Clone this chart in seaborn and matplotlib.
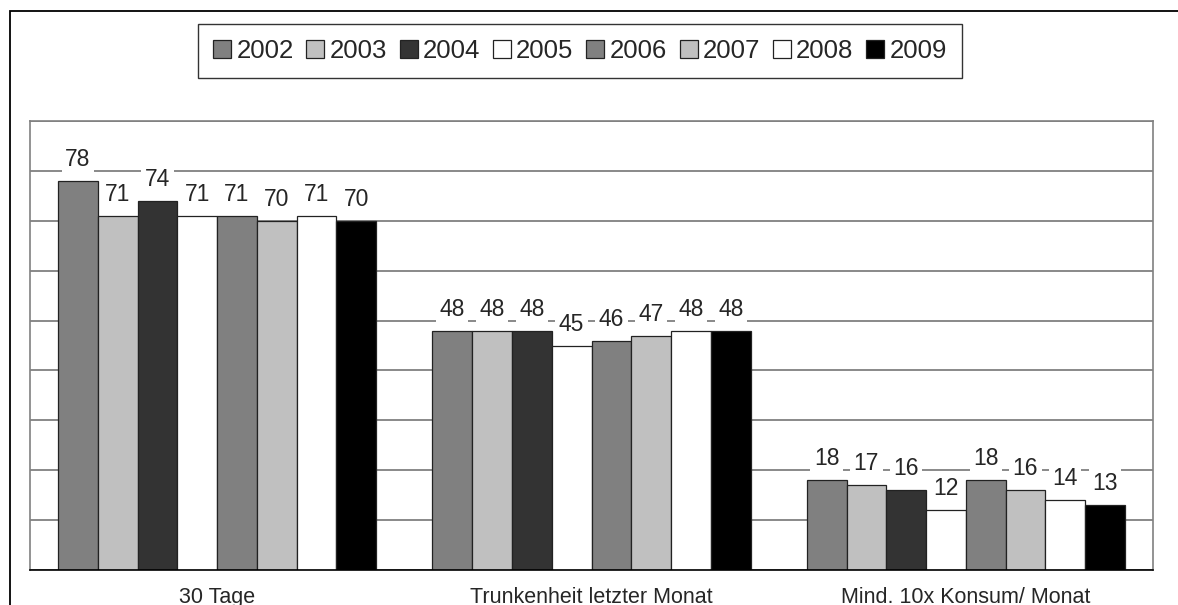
import pandas as pd
import matplotlib.pyplot as plt
import seaborn as sns
from matplotlib.patches import Rectangle
from matplotlib.ticker import FixedLocator

# data
categories = ["30 Tage", "Trunkenheit letzter Monat", "Mind. 10x Konsum/ Monat"]
years = ["2002", "2003", "2004", "2005", "2006", "2007", "2008", "2009"]
values = {
    "2002": [78, 48, 18],
    "2003": [71, 48, 17],
    "2004": [74, 48, 16],
    "2005": [71, 45, 12],
    "2006": [71, 46, 18],
    "2007": [70, 47, 16],
    "2008": [71, 48, 14],
    "2009": [70, 48, 13],
}
colors = ["#808080", "#c0c0c0", "#333333", "#ffffff",
          "#808080", "#c0c0c0", "#ffffff", "#000000"]

rows = []
for y in years:
    for c, v in zip(categories, values[y]):
        rows.append({"Kategorie": c, "Jahr": y, "Wert": v})
df = pd.DataFrame(rows)

sns.set_style("white")
plt.rcParams["font.family"] = ["Liberation Sans", "DejaVu Sans"]

fig = plt.figure(figsize=(11.78, 6.05), dpi=100)
ax = fig.add_axes([30 / 1178, 1 - 570 / 605, (1153 - 30) / 1178, (570 - 121) / 605])

sns.barplot(
    data=df, x="Kategorie", y="Wert", hue="Jahr",
    order=categories, hue_order=years, palette=colors,
    width=0.85, edgecolor="#222222", linewidth=0.9, ax=ax,
)

ax.set_ylim(0, 90)
ax.set_xlim(-0.5, 2.5)
ax.set_yticks(range(0, 91, 10))
ax.set_yticklabels([])
ax.tick_params(axis="y", length=0)
ax.yaxis.grid(True, color="#808080", linewidth=1.3)
ax.set_axisbelow(True)
ax.set_xlabel("")
ax.set_ylabel("")
ax.tick_params(axis="x", which="major", length=0, pad=12, labelsize=15.5)
ax.xaxis.set_minor_locator(FixedLocator([-0.5, 0.5, 1.5, 2.5]))
ax.tick_params(axis="x", which="minor", length=6, width=1, color="black")

for side in ["left", "top", "right"]:
    ax.spines[side].set_color("#808080")
    ax.spines[side].set_linewidth(1.2)
ax.spines["bottom"].set_color("black")
ax.spines["bottom"].set_linewidth(1.2)

# value labels with white background over the grid
for cont in ax.containers:
    for bar in cont:
        h = bar.get_height()
        ax.annotate(f"{h:.0f}", (bar.get_x() + bar.get_width() / 2, h),
                    xytext=(0, 7), textcoords="offset points",
                    ha="center", va="bottom", fontsize=16.5,
                    bbox=dict(boxstyle="square,pad=0.15", fc="white", ec="none"))

# legend on top
handles, labels = ax.get_legend_handles_labels()
ax.legend_.remove()
leg = fig.legend(handles, labels, ncol=8, loc="center",
                 bbox_to_anchor=(580 / 1178, 1 - 51 / 605),
                 fontsize=18.5, frameon=True, fancybox=False,
                 handlelength=0.7, handleheight=0.7, handletextpad=0.2,
                 columnspacing=0.5, borderpad=0.6)
leg.get_frame().set_edgecolor("black")
leg.get_frame().set_linewidth(1.0)

# outer chart border
fig.patches.append(Rectangle((10 / 1178, -0.1), 1.2, 1.1 - 11 / 605,
                             transform=fig.transFigure, fill=False,
                             edgecolor="black", linewidth=1.3))

fig.savefig("out.png", dpi=100)
